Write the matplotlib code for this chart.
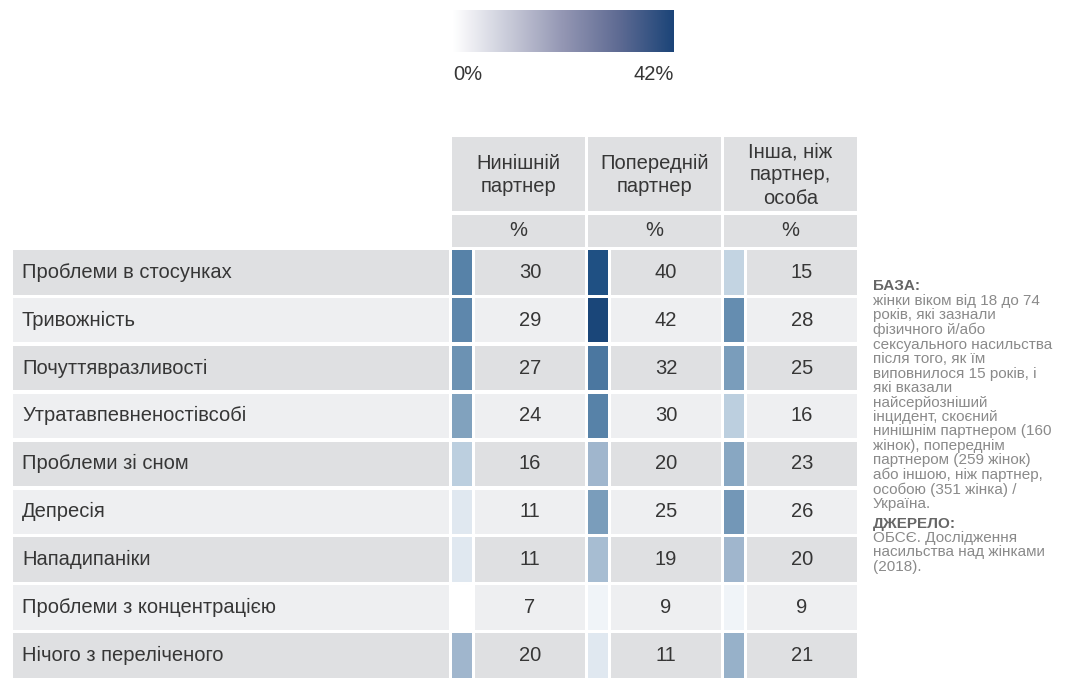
import numpy as np
import matplotlib
matplotlib.use('Agg')
import matplotlib.pyplot as plt
import matplotlib.colors as clrs
from matplotlib.patches import Rectangle

plt.rcParams['font.family'] = ['Liberation Sans', 'DejaVu Sans']

# data
rows = ['Проблеми в стосунках', 'Тривожність', 'Почуттявразливості',
        'Утратавпевненостівсобі', 'Проблеми зі сном', 'Депресія',
        'Нападипаніки', 'Проблеми з концентрацією', 'Нічого з переліченого']
columns = ['Нинішній\nпартнер', 'Попередній\nпартнер', 'Інша, ніж\nпартнер,\nособа']
current_partner = [30, 29, 27, 24, 16, 11, 11, 7, 20]
previous_partner = [40, 42, 32, 30, 20, 25, 19, 9, 11]
other_person = [15, 28, 25, 16, 23, 26, 20, 9, 21]
scale_min, scale_max = 0, 42

note_base = ('жінки віком від 18 до 74\nроків, які зазнали\nфізичного й/або\n'
             'сексуального насильства\nпісля того, як їм\nвиповнилося 15 років, і\n'
             'які вказали\nнайсерйозніший\nінцидент, скоєний\n'
             'нинішнім партнером (160\nжінок), попереднім\nпартнером (259 жінок)\n'
             'або іншою, ніж партнер,\nособою (351 жінка) /\nУкраїна.')
note_source = 'ОБСЄ. Дослідження\nнасильства над жінками\n(2018).'

values = np.array([current_partner, previous_partner, other_person]).T

# colour scales
strip_cmap = clrs.LinearSegmentedColormap.from_list('strip', [
    (0.0, '#ffffff'), (7 / 42, '#ffffff'), (11 / 42, '#e0e8f0'),
    (16 / 42, '#bccfdf'), (20 / 42, '#9fb6cd'), (25 / 42, '#7a9dbb'),
    (30 / 42, '#5782a8'), (40 / 42, '#1f5083'), (1.0, '#1a4679')])
legend_cmap = clrs.LinearSegmentedColormap.from_list('legend', [
    (0.0, '#ffffff'), (0.25, '#c9cbd9'), (0.5, '#9396b3'),
    (0.75, '#5f6b93'), (1.0, '#1b4478')])
norm = clrs.Normalize(scale_min, scale_max)

# layout in pixels
W, H = 1069, 686
ROW_TOP, ROW_PITCH, ROW_H = 250, 47.9, 44.5
LABEL_X0, LABEL_X1 = 13, 449
COL_X0 = [452, 588, 724]
STRIP_W, GAP, CELL_W = 20, 3, 110
HEAD_TOP, HEAD_BOT = 137, 211
PCT_TOP, PCT_BOT = 215, 247
DARK, LIGHT = '#dfe0e2', '#eeeff1'
TXT = '#363636'
FS = 14.5
NOTE_FS = 11

fig = plt.figure(figsize=(W / 100, H / 100), dpi=100)
ax = fig.add_axes([0, 0, 1, 1])
ax.set_xlim(0, W)
ax.set_ylim(H, 0)
ax.axis('off')

# colour legend
ax.imshow(np.linspace(0, 1, 256)[None, :], cmap=legend_cmap, aspect='auto',
          extent=(453, 674, 52, 10))
ax.text(453, 75, f'{scale_min}%', fontsize=FS, color=TXT, ha='left', va='center')
ax.text(674, 75, f'{scale_max}%', fontsize=FS, color=TXT, ha='right', va='center')

# column headers
for j, name in enumerate(columns):
    x0 = COL_X0[j]
    x1 = x0 + STRIP_W + GAP + CELL_W
    ax.add_patch(Rectangle((x0, HEAD_TOP), x1 - x0, HEAD_BOT - HEAD_TOP, color=DARK, lw=0))
    ax.add_patch(Rectangle((x0, PCT_TOP), x1 - x0, PCT_BOT - PCT_TOP, color=DARK, lw=0))
    ax.text((x0 + x1) / 2, (HEAD_TOP + HEAD_BOT) / 2 + 1, name, fontsize=FS,
            color=TXT, ha='center', va='center', linespacing=1.3)
    ax.text((x0 + x1) / 2, (PCT_TOP + PCT_BOT) / 2, '%', fontsize=FS,
            color=TXT, ha='center', va='center')

# rows
for i, label in enumerate(rows):
    y0 = ROW_TOP + i * ROW_PITCH
    bg = DARK if i % 2 == 0 else LIGHT
    ax.add_patch(Rectangle((LABEL_X0, y0), LABEL_X1 - LABEL_X0, ROW_H, color=bg, lw=0))
    ax.text(LABEL_X0 + 9, y0 + ROW_H / 2, label, fontsize=FS,
            color=TXT, ha='left', va='center')
    for j in range(len(columns)):
        v = values[i, j]
        x0 = COL_X0[j]
        ax.add_patch(Rectangle((x0, y0), STRIP_W, ROW_H,
                               color=strip_cmap(norm(v)), lw=0))
        cx = x0 + STRIP_W + GAP
        ax.add_patch(Rectangle((cx, y0), CELL_W, ROW_H, color=bg, lw=0))
        ax.text(cx + CELL_W / 2, y0 + ROW_H / 2, str(v), fontsize=FS,
                color=TXT, ha='center', va='center')

# side note
NOTE_X = 873
ax.text(NOTE_X, 286, 'БАЗА:', fontsize=NOTE_FS, fontweight='bold', color='#666666',
        ha='left', va='center')
ax.text(NOTE_X, 294, note_base, fontsize=NOTE_FS, color='#8a8a8a', ha='left',
        va='top', linespacing=1.04)
ax.text(NOTE_X, 524, 'ДЖЕРЕЛО:', fontsize=NOTE_FS, fontweight='bold', color='#666666',
        ha='left', va='center')
ax.text(NOTE_X, 531, note_source, fontsize=NOTE_FS, color='#8a8a8a', ha='left',
        va='top', linespacing=1.04)

fig.savefig('out.png', dpi=100)
